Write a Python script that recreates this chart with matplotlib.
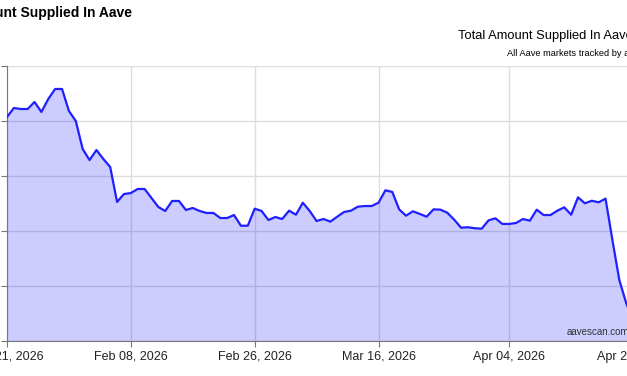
import numpy as np
import pandas as pd
import matplotlib
matplotlib.use('Agg')
import matplotlib.pyplot as plt
import matplotlib.dates as mdates

plt.rcParams['font.family'] = ['Liberation Sans', 'DejaVu Sans']

# total amount supplied, $B, one value per day from Jan 21 2026
values = [50.36, 51.18, 51.09, 51.09, 51.73, 50.82, 52.00, 52.91, 52.91, 50.91,
          50.00, 47.45, 46.45, 47.36, 46.55, 45.82, 42.64, 43.36, 43.45, 43.82,
          43.82, 43.00, 42.18, 41.82, 42.73, 42.73, 41.91, 42.09, 41.82, 41.64,
          41.64, 41.18, 41.18, 41.45, 40.48, 40.48, 42.03, 41.82, 41.00, 41.27,
          41.09, 41.85, 41.48, 42.57, 41.82, 40.91, 41.09, 40.85, 41.30, 41.73,
          41.85, 42.21, 42.27, 42.27, 42.57, 43.70, 43.55, 41.97, 41.39, 41.79,
          41.55, 41.30, 41.97, 41.94, 41.66, 41.03, 40.30, 40.34, 40.25, 40.21,
          40.97, 41.15, 40.64, 40.64, 40.73, 41.09, 40.94, 41.94, 41.45, 41.45,
          41.85, 42.15, 41.48, 43.06, 42.52, 42.75, 42.61, 42.94, 39.18, 35.55,
          33.45, 31.91]
dates = pd.date_range('2026-01-21', periods=len(values), freq='D')

x_ticks = pd.to_datetime(['2026-01-21', '2026-02-08', '2026-02-26',
                          '2026-03-16', '2026-04-04', '2026-04-22'])
y_ticks = [30, 35, 40, 45, 50, 55]

fig = plt.figure(figsize=(6.27, 3.76), dpi=100)
# plot area runs past the right edge of the picture (cropped screenshot)
ax = fig.add_axes([7 / 627, 35 / 376, 646.7 / 627, 275 / 376])

ax.fill_between(dates, values, 30, color='blue', alpha=0.2, lw=0, zorder=2)
ax.plot(dates, values, color='#1f1fff', lw=1.6, zorder=3)

ax.set_xlim(pd.Timestamp('2026-01-21'), pd.Timestamp('2026-04-25'))
ax.set_ylim(30, 55)
ax.set_xticks(x_ticks)
ax.xaxis.set_major_formatter(mdates.DateFormatter('%b %d, %Y'))
ax.set_yticks(y_ticks)
ax.tick_params(axis='y', labelleft=False, length=4, color='#777777')
ax.tick_params(axis='x', length=4, color='#777777', labelsize=9, pad=3,
               labelcolor='#222222')

ax.set_axisbelow(True)
ax.grid(True, color='#dddddd', lw=1)
for s in ['top', 'right']:
    ax.spines[s].set_visible(False)
for s in ['left', 'bottom']:
    ax.spines[s].set_color('#777777')

fig.text(132 / 627, 1 - 13 / 376, 'Total Amount Supplied In Aave', ha='right',
         va='center', fontsize=10, fontweight='bold')
fig.text(458 / 627, 1 - 36 / 376, 'Total Amount Supplied In Aave', ha='left',
         va='center', fontsize=9.3)
fig.text(507 / 627, 1 - 53 / 376, 'All Aave markets tracked by aavescan', ha='left',
         va='center', fontsize=6.7)
fig.text(567 / 627, 1 - 332 / 376, 'aavescan.com', ha='left', va='center',
         fontsize=7.0, color='#333333')

fig.savefig('out.png', dpi=100)
